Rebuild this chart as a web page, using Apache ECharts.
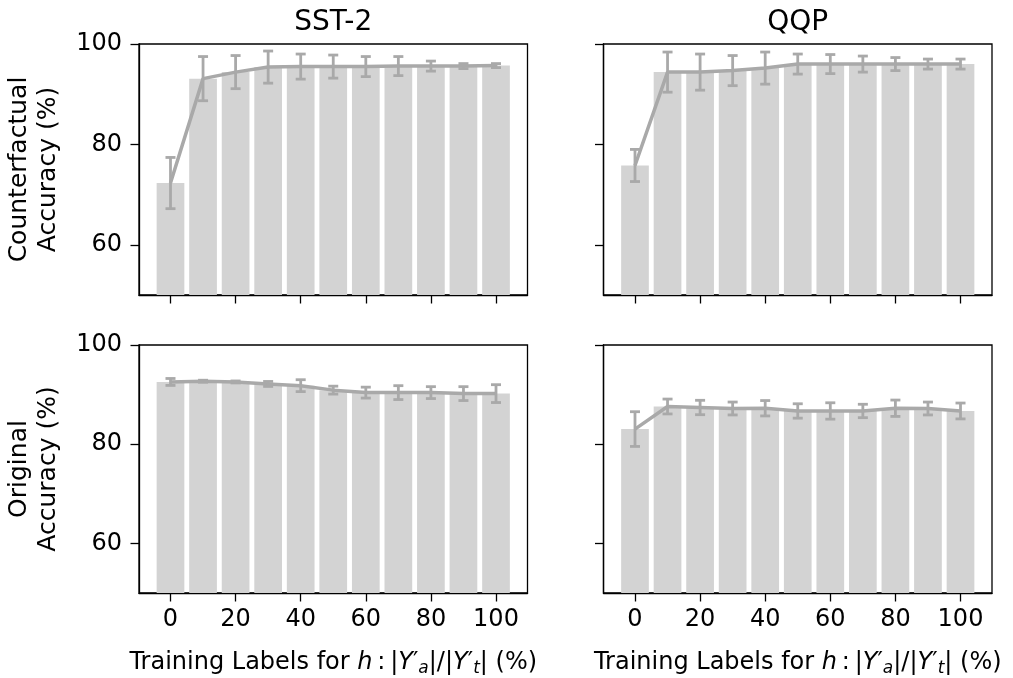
<!DOCTYPE html>
<html>
<head>
<meta charset="utf-8">
<script src="https://cdn.jsdelivr.net/npm/echarts@6/dist/echarts.min.js"></script>
<style>
html,body{margin:0;padding:0;background:#fff;}
#chart{width:1013px;height:678px;}
</style>
</head>
<body>
<div id="chart"></div>
<script>
const xs = [0, 10, 20, 30, 40, 50, 60, 70, 80, 90, 100];
const xTicks = [0, 20, 40, 60, 80, 100];
const yTicks = [60, 80, 100];
const titles = ['SST-2', 'QQP'];

const sstCf    = [72.3, 93.1, 94.4, 95.4, 95.5, 95.5, 95.5, 95.6, 95.6, 95.6, 95.7];
const sstCfErr = [5.1, 4.4, 3.3, 3.2, 2.5, 2.3, 2.0, 1.9, 1.0, 0.5, 0.4];
const qqpCf    = [75.8, 94.4, 94.4, 94.7, 95.2, 96.0, 96.0, 96.0, 96.0, 96.0, 96.0];
const qqpCfErr = [3.2, 4.0, 3.6, 3.0, 3.2, 2.0, 1.9, 1.6, 1.3, 1.0, 1.0];
const sstOr    = [92.55, 92.7, 92.55, 92.15, 91.8, 90.9, 90.4, 90.4, 90.4, 90.2, 90.2];
const sstOrErr = [0.7, 0.2, 0.2, 0.5, 1.2, 0.8, 1.1, 1.4, 1.2, 1.4, 1.8];
const qqpOr    = [83.05, 87.6, 87.4, 87.2, 87.25, 86.7, 86.7, 86.7, 87.25, 87.2, 86.7];
const qqpOrErr = [3.5, 1.5, 1.45, 1.3, 1.55, 1.45, 1.65, 1.35, 1.65, 1.3, 1.6];

const panels = [
  {means: sstCf, errs: sstCfErr},
  {means: qqpCf, errs: qqpCfErr},
  {means: sstOr, errs: sstOrErr},
  {means: qqpOr, errs: qqpOrErr}
];

const FONT = 'DejaVu Sans';
const BAR = '#d3d3d3';
const LINE = '#a9a9a9';
const gridLeft = [139, 603.5];
const gridTop = [44, 345];
const GW = 388.5, GH = 251;
const TICK_FS = 24;
const LAB_FS = 24;

const grids = [], xAxes = [], yAxes = [], series = [];
panels.forEach((p, i) => {
  const row = Math.floor(i / 2), col = i % 2;
  grids.push({left: gridLeft[col], top: gridTop[row], width: GW, height: GH,
    show: true, borderColor: '#000', borderWidth: 1.3, backgroundColor: 'transparent', containLabel: false});
  xAxes.push({
    type: 'value', gridIndex: i, min: -9.675, max: 109.675,
    splitLine: {show: false},
    axisLine: {show: true, onZero: false, lineStyle: {color: '#000', width: 1.3}},
    axisTick: {show: true, length: 8.5, lineStyle: {color: '#000', width: 1.3}, customValues: xTicks},
    axisLabel: {show: row === 1, customValues: xTicks, color: '#000', fontFamily: FONT, fontSize: TICK_FS, margin: 15},
    name: row === 1 ? '{n|Training Labels for }{i|h}{n|\u2009:\u2009|}{i|Y}{n|\u2032}{sb|a}{n||/|}{i|Y}{n|\u2032}{sb|t}{n|| (%)}' : '',
    nameLocation: 'middle', nameGap: 55,
    nameTextStyle: {
      color: '#000', fontFamily: FONT, fontSize: LAB_FS,
      rich: {
        n: {fontFamily: FONT, fontSize: LAB_FS, color: '#000'},
        i: {fontFamily: FONT, fontStyle: 'italic', fontSize: LAB_FS, color: '#000'},
        sb: {fontFamily: FONT, fontStyle: 'italic', fontSize: 17, color: '#000', verticalAlign: 'bottom', padding: [12, 0, 0, 0]}
      }
    }
  });
  yAxes.push({
    type: 'value', gridIndex: i, min: 50, max: 100,
    splitLine: {show: false},
    axisLine: {show: true, onZero: false, lineStyle: {color: '#000', width: 1.3}},
    axisTick: {show: true, length: 8.5, lineStyle: {color: '#000', width: 1.3}, customValues: yTicks},
    axisLabel: {show: col === 0, customValues: yTicks, color: '#000', fontFamily: FONT, fontSize: TICK_FS, margin: 17},
    name: col === 0 ? (row === 0 ? 'Counterfactual\nAccuracy (%)' : 'Original\nAccuracy (%)') : '',
    nameLocation: 'middle', nameRotate: 90, nameGap: 76,
    nameTextStyle: {color: '#000', fontFamily: FONT, fontSize: 25, lineHeight: 29}
  });
  series.push({
    type: 'bar', xAxisIndex: i, yAxisIndex: i, barWidth: 27.7,
    itemStyle: {color: BAR}, silent: true, z: 1,
    data: xs.map((x, k) => [x, p.means[k]])
  });
  series.push({
    type: 'line', xAxisIndex: i, yAxisIndex: i, symbol: 'none', z: 3,
    lineStyle: {color: LINE, width: 3.5}, silent: true,
    data: xs.map((x, k) => [x, p.means[k]])
  });
  series.push({
    type: 'custom', xAxisIndex: i, yAxisIndex: i, z: 4, silent: true,
    data: xs.map((x, k) => [x, p.means[k], p.errs[k]]),
    renderItem: function (params, api) {
      const x = api.value(0), m = api.value(1), e = api.value(2);
      const t = api.coord([x, m + e]);
      const b = api.coord([x, m - e]);
      const hw = 5;
      const st = {stroke: LINE, lineWidth: 2.8, fill: null};
      return {type: 'group', children: [
        {type: 'line', shape: {x1: t[0], y1: t[1], x2: b[0], y2: b[1]}, style: st},
        {type: 'line', shape: {x1: t[0] - hw, y1: t[1], x2: t[0] + hw, y2: t[1]}, style: st},
        {type: 'line', shape: {x1: b[0] - hw, y1: b[1], x2: b[0] + hw, y2: b[1]}, style: st}
      ]};
    }
  });
});

const chart = echarts.init(document.getElementById('chart'), null, {renderer: 'canvas'});
chart.setOption({
  backgroundColor: '#fff',
  animation: false,
  grid: grids, xAxis: xAxes, yAxis: yAxes, series: series,
  graphic: titles.map((t, c) => ({
    type: 'text', x: gridLeft[c] + GW / 2, y: 23,
    style: {text: t, fill: '#000', font: '28px "DejaVu Sans"', align: 'center', verticalAlign: 'middle'}
  }))
});
</script>
</body>
</html>
